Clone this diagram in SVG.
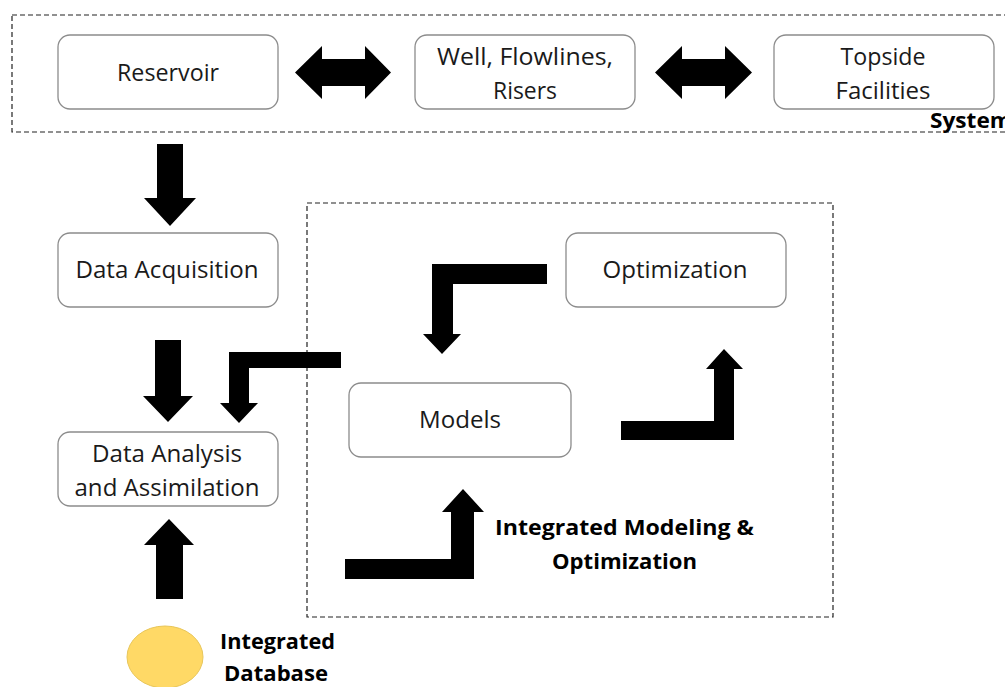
<svg xmlns="http://www.w3.org/2000/svg" width="1005" height="687" viewBox="0 0 1005 687">
<style>
.box{fill:#fff;stroke:#8c8c8c;stroke-width:1.3}
.lbl{font-family:"Open Sans","Liberation Sans",sans-serif;font-size:23px;fill:#1a1a1a;text-anchor:middle}
.bold{font-family:"Open Sans","Liberation Sans",sans-serif;font-weight:bold;font-size:21px;fill:#000}
.dash{fill:none;stroke:#222;stroke-width:1.2;stroke-dasharray:5,3}
.arr{fill:#000}
</style>
<rect width="1005" height="687" fill="#fff"/>
<g id="system-group">
<rect class="dash" x="12" y="15" width="1010" height="117"/>
<text class="bold" x="930" y="128" font-size="20" textLength="82" lengthAdjust="spacingAndGlyphs">System</text>
</g>
<g id="imo-group">
<rect class="dash" x="307" y="203" width="526" height="414"/>
<text class="bold" x="495" y="535" textLength="259" lengthAdjust="spacingAndGlyphs">Integrated Modeling &amp;</text>
<text class="bold" x="552" y="569" textLength="145" lengthAdjust="spacingAndGlyphs">Optimization</text>
</g>
<g id="reservoir">
<rect class="box" x="58" y="35" width="220" height="74" rx="12"/>
<text class="lbl" x="168" y="81" textLength="102" lengthAdjust="spacingAndGlyphs">Reservoir</text>
</g>
<g id="well">
<rect class="box" x="415" y="35" width="220" height="74" rx="12"/>
<text class="lbl" x="525" y="65" textLength="176" lengthAdjust="spacingAndGlyphs">Well, Flowlines,</text>
<text class="lbl" x="525" y="99" textLength="64" lengthAdjust="spacingAndGlyphs">Risers</text>
</g>
<g id="topside">
<rect class="box" x="774" y="35" width="220" height="74" rx="12"/>
<text class="lbl" x="883" y="65" textLength="85" lengthAdjust="spacingAndGlyphs">Topside</text>
<text class="lbl" x="883" y="99" textLength="95" lengthAdjust="spacingAndGlyphs">Facilities</text>
</g>
<g id="data-acquisition">
<rect class="box" x="58" y="233" width="220" height="74" rx="12"/>
<text class="lbl" x="167" y="278" textLength="183" lengthAdjust="spacingAndGlyphs">Data Acquisition</text>
</g>
<g id="data-analysis">
<rect class="box" x="58" y="432" width="220" height="74" rx="12"/>
<text class="lbl" x="167" y="462" textLength="150" lengthAdjust="spacingAndGlyphs">Data Analysis</text>
<text class="lbl" x="167" y="496" textLength="185" lengthAdjust="spacingAndGlyphs">and Assimilation</text>
</g>
<g id="optimization">
<rect class="box" x="566" y="233" width="220" height="74" rx="12"/>
<text class="lbl" x="675" y="278" textLength="145" lengthAdjust="spacingAndGlyphs">Optimization</text>
</g>
<g id="models">
<rect class="box" x="349" y="383" width="222" height="74" rx="12"/>
<text class="lbl" x="460" y="428" textLength="82" lengthAdjust="spacingAndGlyphs">Models</text>
</g>
<g id="integrated-database">
<ellipse cx="165" cy="657" rx="38" ry="31" fill="#ffd966" stroke="#e8c65a" stroke-width="1"/>
<text class="bold" x="220" y="649" textLength="115" lengthAdjust="spacingAndGlyphs">Integrated</text>
<text class="bold" x="224" y="681" textLength="104" lengthAdjust="spacingAndGlyphs">Database</text>
</g>
<g id="connectors">
<polygon class="arr" points="295,72.5 322,46 322,59 365,59 365,46 391,72.5 365,99 365,86 322,86 322,99"/>
<polygon class="arr" points="655,72.5 682,46 682,59 725,59 725,46 752,72.5 725,99 725,86 682,86 682,99"/>
<polygon class="arr" points="157,144 183,144 183,198 196,198 170,226 144,198 157,198"/>
<polygon class="arr" points="155,340 181,340 181,396 193,396 168,422 143,396 155,396"/>
<polygon class="arr" points="156,599 183,599 183,545 194,545 169,519 144,545 156,545"/>
<polygon class="arr" points="341,352 229,352 229,403 220,403 239,423 258,403 249,403 249,368 341,368"/>
<polygon class="arr" points="547,264 432,264 432,334 423,334 442,354 461,334 453,334 453,284 547,284"/>
<polygon class="arr" points="621,421 714,421 714,369 706,369 724,349 743,369 734,369 734,440 621,440"/>
<polygon class="arr" points="345,559 451,559 451,512 442,512 463,489 484,512 474,512 474,579 345,579"/>
</g>
</svg>
